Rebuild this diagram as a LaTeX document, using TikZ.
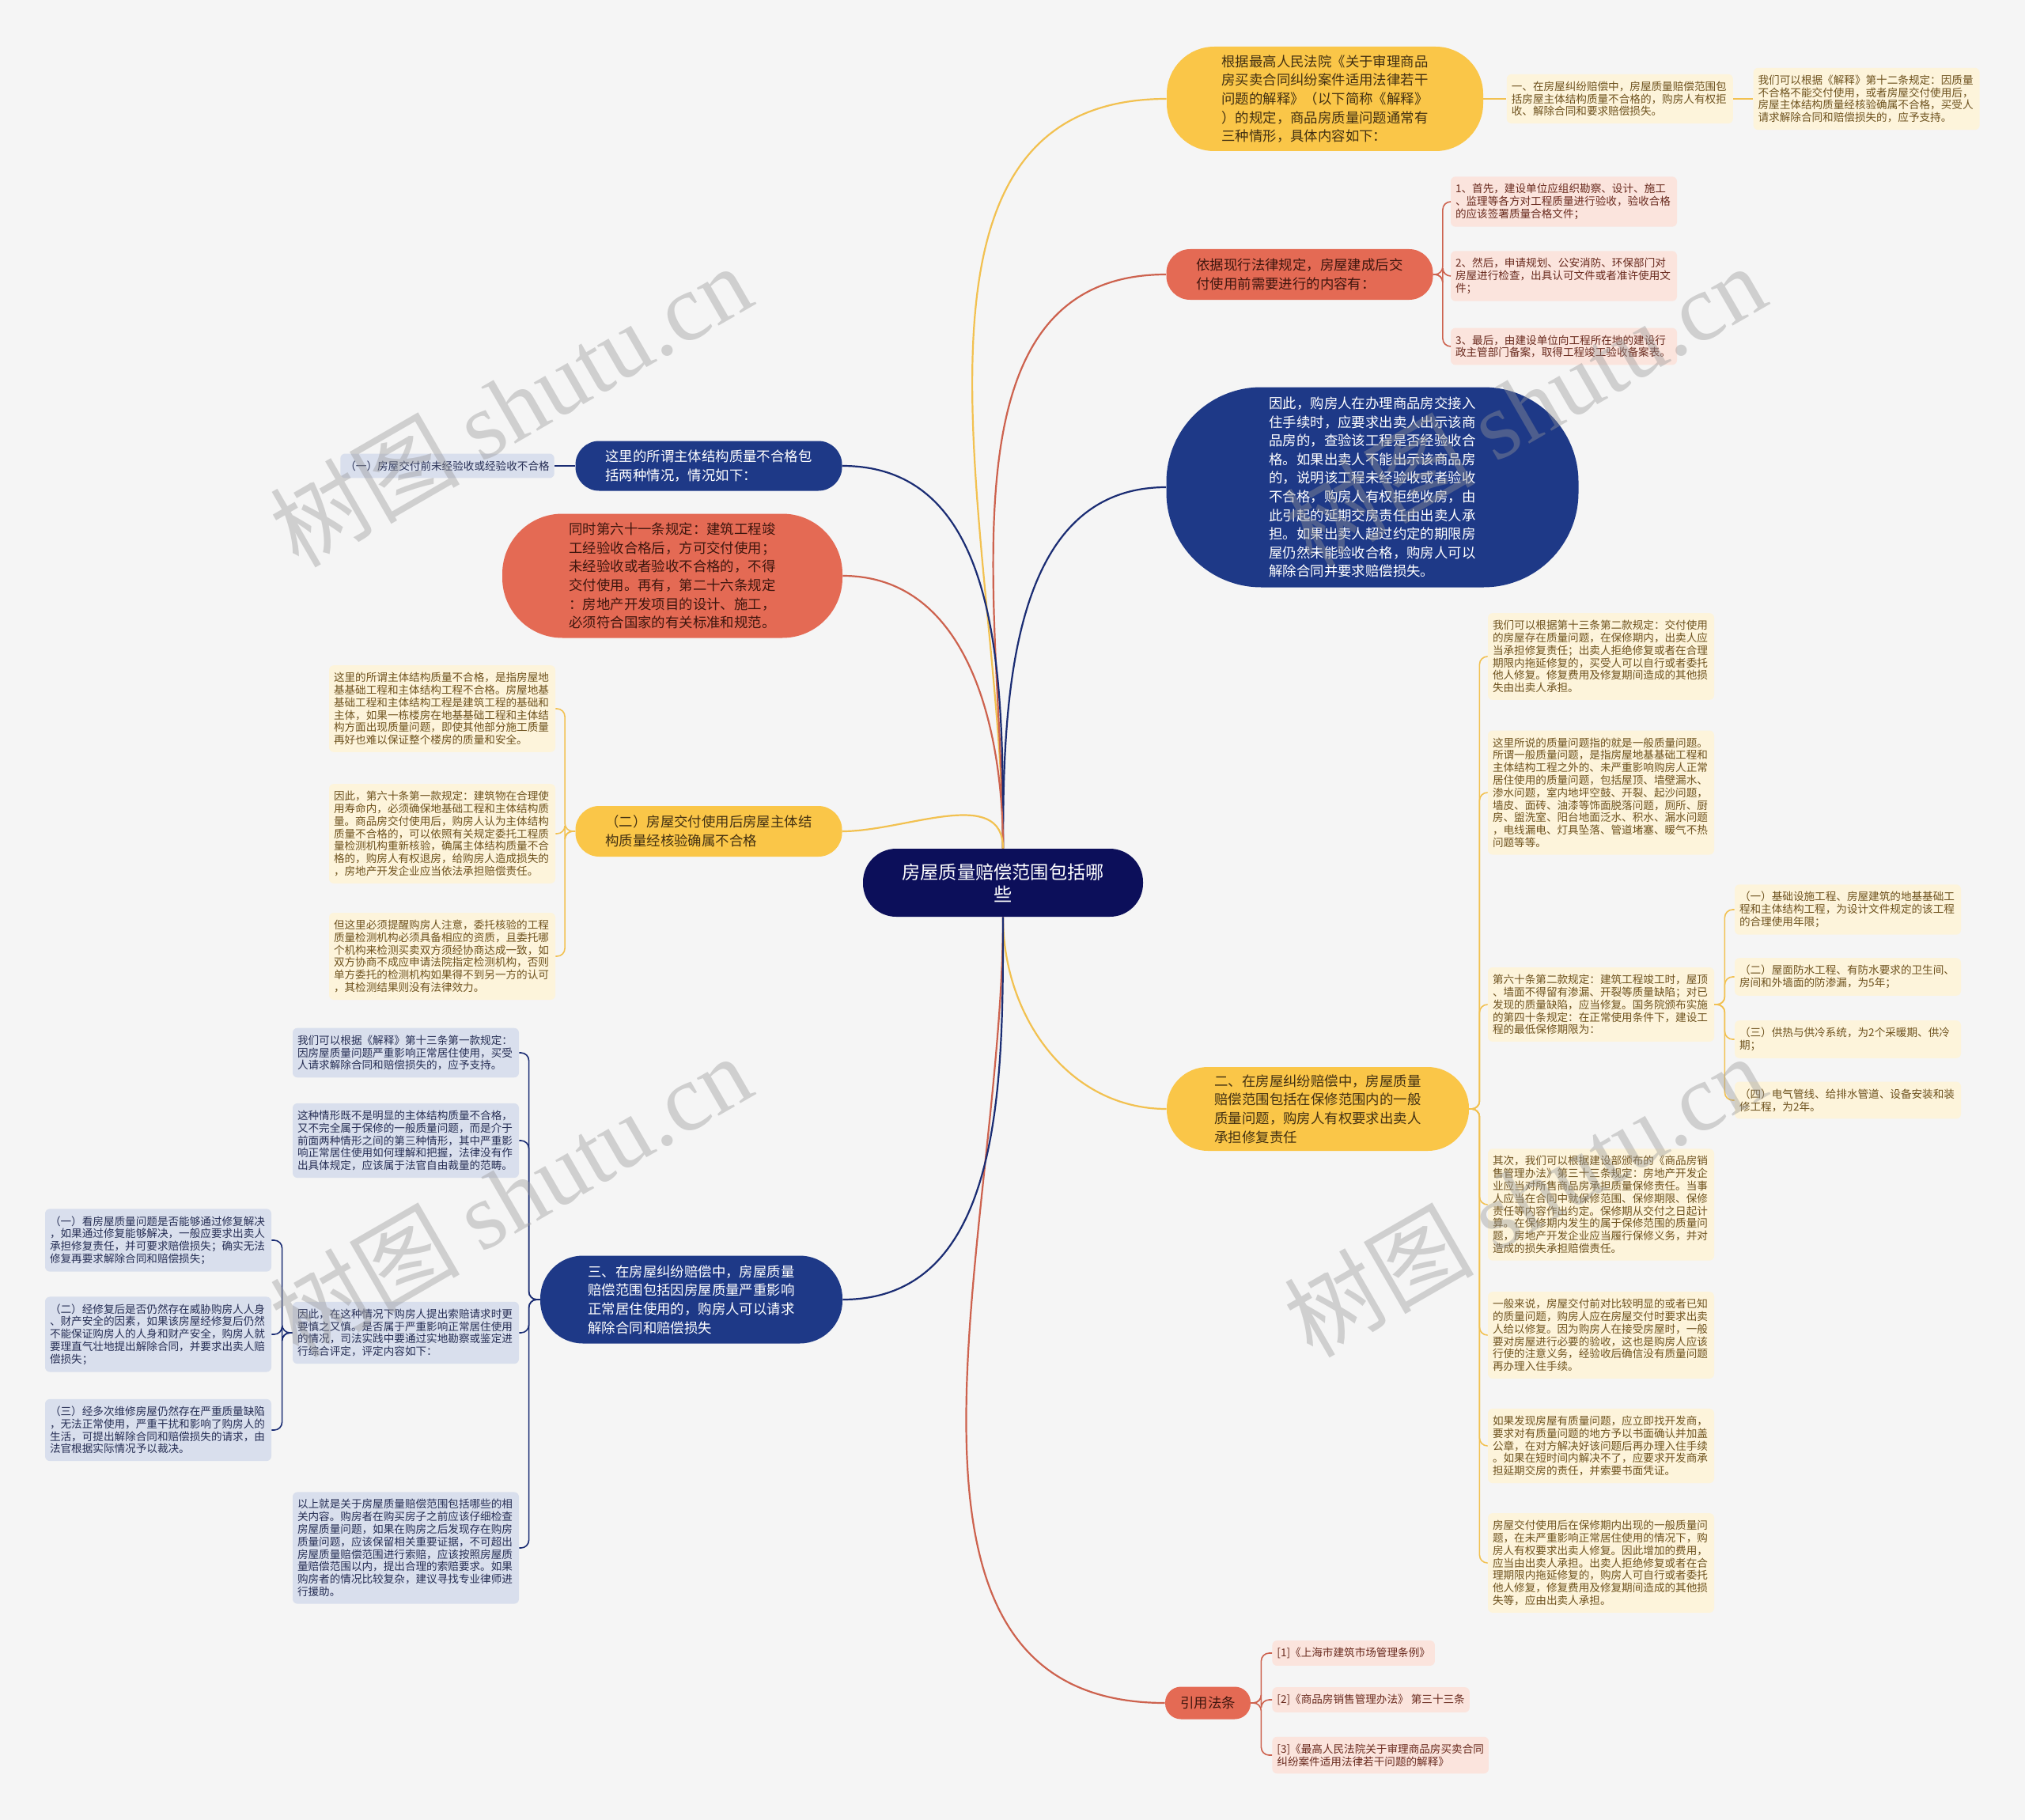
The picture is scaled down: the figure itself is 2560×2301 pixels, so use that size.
\documentclass[tikz,border=0pt]{standalone}
\usepackage{fontspec}
\setmainfont{Noto Sans CJK SC}
\newfontfamily\wmserif{Liberation Serif}
\usetikzlibrary{positioning}
\definecolor{bgc}{RGB}{245,245,245}
\definecolor{rootc}{RGB}{12,15,90}
\definecolor{ymainc}{RGB}{250,198,72}
\definecolor{ymaintx}{RGB}{66,48,18}
\definecolor{rmainc}{RGB}{228,106,84}
\definecolor{rmaintx}{RGB}{62,22,14}
\definecolor{bmainc}{RGB}{30,57,135}
\definecolor{yleafc}{RGB}{253,244,219}
\definecolor{yleaftx}{RGB}{110,82,30}
\definecolor{rleafc}{RGB}{251,228,221}
\definecolor{rleaftx}{RGB}{105,42,30}
\definecolor{bleafc}{RGB}{217,223,237}
\definecolor{bleaftx}{RGB}{38,46,84}
\definecolor{ylinec}{RGB}{242,193,80}
\definecolor{rlinec}{RGB}{205,98,78}
\definecolor{blinec}{RGB}{26,44,115}
\definecolor{wmc}{RGB}{150,150,150}
\newcommand{\rtfont}{\fontsize{11.6}{14}\selectfont}
\newcommand{\brfont}{\fontsize{8.7}{11.8}\selectfont}
\newcommand{\lffont}{\fontsize{6.8}{7.9}\selectfont}

\begin{document}
\begin{tikzpicture}[x=0.5pt, y=-0.5pt, node distance=12pt,
    root/.style={rectangle, rounded corners=21pt, fill=rootc, text=white, minimum width=177pt, minimum height=43pt, align=center, font=\rtfont},
    ymain/.style={rectangle, fill=ymainc, text=ymaintx, align=left, font=\brfont},
    rmain/.style={rectangle, fill=rmainc, text=rmaintx, align=left, font=\brfont},
    bmain/.style={rectangle, fill=bmainc, text=white, align=left, font=\brfont},
    leaf/.style={rectangle, rounded corners=3pt, text width=137pt, inner xsep=3pt, inner ysep=4.5pt, align=left, font=\lffont},
    yleaf/.style={leaf, fill=yleafc, text=yleaftx},
    rleaf/.style={leaf, fill=rleafc, text=rleaftx},
    bleaf/.style={leaf, fill=bleafc, text=bleaftx},
    rref/.style={rectangle, rounded corners=3pt, inner xsep=3pt, inner ysep=4.5pt, align=left, font=\lffont, fill=rleafc, text=rleaftx},
    bref/.style={rectangle, rounded corners=3pt, inner xsep=3pt, inner ysep=4.5pt, align=left, font=\lffont, fill=bleafc, text=bleaftx},
    ylink/.style={draw=ylinec, line width=1.1pt},
    rlink/.style={draw=rlinec, line width=1.1pt},
    blink/.style={draw=blinec, line width=1.1pt},
    yspine/.style={draw=ylinec, line width=0.8pt, rounded corners=5pt},
    rspine/.style={draw=rlinec, line width=0.8pt, rounded corners=5pt},
    bspine/.style={draw=blinec, line width=0.8pt, rounded corners=5pt},
    wm/.style={text=wmc, opacity=0.4, font=\fontsize{60}{60}\selectfont}
]

\fill[bgc] (0,0) rectangle (2560,2301);
\useasboundingbox (0,0) rectangle (2560,2301);

\node[root] (c) at (1268,1116) {房屋质量赔偿范围包括哪\\些};

\node[ymain, minimum width=200pt, minimum height=66pt, rounded corners=30pt] (b1) at (1675,125) {根据最高人民法院《关于审理商品\\房买卖合同纠纷案件适用法律若干\\问题的解释》（以下简称《解释》\\）的规定，商品房质量问题通常有\\三种情形，具体内容如下：};
\node[yleaf, right=14.5pt of b1] (l11) {一、在房屋纠纷赔偿中，房屋质量赔偿范围包\\括房屋主体结构质量不合格的，购房人有权拒\\收、解除合同和要求赔偿损失。};
\node[yleaf, right=12.5pt of l11] (l12) {我们可以根据《解释》第十二条规定：因质量\\不合格不能交付使用，或者房屋交付使用后，\\房屋主体结构质量经核验确属不合格，买受人\\请求解除合同和赔偿损失的，应予支持。};

\node[rmain, minimum width=168.5pt, minimum height=32pt, rounded corners=15pt] (b2) at (1643,347) {依据现行法律规定，房屋建成后交\\付使用前需要进行的内容有：};
\node[rleaf] (l21) at (1977,255) {1、首先，建设单位应组织勘察、设计、施工\\、监理等各方对工程质量进行验收，验收合格\\的应该签署质量合格文件；};
\node[rleaf] (l22) at (1977,349) {2、然后，申请规划、公安消防、环保部门对\\房屋进行检查，出具认可文件或者准许使用文\\件；};
\node[rleaf] (l23) at (1977,438) {3、最后，由建设单位向工程所在地的建设行\\政主管部门备案，取得工程竣工验收备案表。};

\node[bmain, minimum width=260.5pt, minimum height=126.5pt, rounded corners=60pt] (b3) at (1735,616) {因此，购房人在办理商品房交接入\\住手续时，应要求出卖人出示该商\\品房的，查验该工程是否经验收合\\格。如果出卖人不能出示该商品房\\的，说明该工程未经验收或者验收\\不合格，购房人有权拒绝收房，由\\此引起的延期交房责任由出卖人承\\担。如果出卖人超过约定的期限房\\屋仍然未能验收合格，购房人可以\\解除合同并要求赔偿损失。};

\node[ymain, minimum width=191pt, minimum height=53pt, rounded corners=26pt] (b4) at (1666,1402) {二、在房屋纠纷赔偿中，房屋质量\\赔偿范围包括在保修范围内的一般\\质量问题，购房人有权要求出卖人\\承担修复责任};
\node[yleaf] (l41) at (2024,830) {我们可以根据第十三条第二款规定：交付使用\\的房屋存在质量问题，在保修期内，出卖人应\\当承担修复责任；出卖人拒绝修复或者在合理\\期限内拖延修复的，买受人可以自行或者委托\\他人修复。修复费用及修复期间造成的其他损\\失由出卖人承担。};
\node[yleaf] (l42) at (2024,1002) {这里所说的质量问题指的就是一般质量问题。\\所谓一般质量问题，是指房屋地基基础工程和\\主体结构工程之外的、未严重影响购房人正常\\居住使用的质量问题，包括屋顶、墙壁漏水、\\渗水问题，室内地坪空鼓、开裂、起沙问题，\\墙皮、面砖、油漆等饰面脱落问题，厕所、厨\\房、盥洗室、阳台地面泛水、积水、漏水问题\\，电线漏电、灯具坠落、管道堵塞、暖气不热\\问题等等。};
\node[yleaf] (l43) at (2024,1270) {第六十条第二款规定：建筑工程竣工时，屋顶\\、墙面不得留有渗漏、开裂等质量缺陷；对已\\发现的质量缺陷，应当修复。国务院颁布实施\\的第四十条规定：在正常使用条件下，建设工\\程的最低保修期限为：};
\node[yleaf] (s1) at (2336,1150) {（一）基础设施工程、房屋建筑的地基基础工\\程和主体结构工程，为设计文件规定的该工程\\的合理使用年限；};
\node[yleaf] (s2) at (2336,1235) {（二）屋面防水工程、有防水要求的卫生间、\\房间和外墙面的防渗漏，为5年；};
\node[yleaf] (s3) at (2336,1314) {（三）供热与供冷系统，为2个采暖期、供冷\\期；};
\node[yleaf] (s4) at (2336,1391) {（四）电气管线、给排水管道、设备安装和装\\修工程，为2年。};
\node[yleaf] (l44) at (2024,1523) {其次，我们可以根据建设部颁布的《商品房销\\售管理办法》第三十三条规定：房地产开发企\\业应当对所售商品房承担质量保修责任。当事\\人应当在合同中就保修范围、保修期限、保修\\责任等内容作出约定。保修期从交付之日起计\\算。在保修期内发生的属于保修范围的质量问\\题，房地产开发企业应当履行保修义务，并对\\造成的损失承担赔偿责任。};
\node[yleaf] (l45) at (2024,1688) {一般来说，房屋交付前对比较明显的或者已知\\的质量问题，购房人应在房屋交付时要求出卖\\人给以修复。因为购房人在接受房屋时，一般\\要对房屋进行必要的验收，这也是购房人应该\\行使的注意义务，经验收后确信没有质量问题\\再办理入住手续。};
\node[yleaf] (l46) at (2024,1828) {如果发现房屋有质量问题，应立即找开发商，\\要求对有质量问题的地方予以书面确认并加盖\\公章，在对方解决好该问题后再办理入住手续\\。如果在短时间内解决不了，应要求开发商承\\担延期交房的责任，并索要书面凭证。};
\node[yleaf] (l47) at (2024,1976) {房屋交付使用后在保修期内出现的一般质量问\\题，在未严重影响正常居住使用的情况下，购\\房人有权要求出卖人修复。因此增加的费用，\\应当由出卖人承担。出卖人拒绝修复或者在合\\理期限内拖延修复的，购房人可自行或者委托\\他人修复，修复费用及修复期间造成的其他损\\失等，应由出卖人承担。};

\node[rmain, minimum width=54pt, minimum height=20.5pt, rounded corners=10pt] (b5) at (1527,2153) {引用法条};
\node[rref, anchor=west] (r1) at (1608,2090) {[1]《上海市建筑市场管理条例》};
\node[rref, anchor=west] (r2) at (1608,2149) {[2]《商品房销售管理办法》 第三十三条};
\node[rref, anchor=west] (r3) at (1608,2219) {[3]《最高人民法院关于审理商品房买卖合同\\纠纷案件适用法律若干问题的解释》};

\node[bmain, minimum width=168.5pt, minimum height=31.5pt, rounded corners=15pt] (b6) at (896,589) {这里的所谓主体结构质量不合格包\\括两种情况，情况如下：};
\node[bref, left=13pt of b6] (l61) {（一）房屋交付前未经验收或经验收不合格};

\node[rmain, minimum width=215pt, minimum height=78.5pt, rounded corners=38pt] (b7) at (850,728) {同时第六十一条规定：建筑工程竣\\工经验收合格后，方可交付使用；\\未经验收或者验收不合格的，不得\\交付使用。再有，第二十六条规定\\：房地产开发项目的设计、施工，\\必须符合国家的有关标准和规范。};

\node[ymain, minimum width=168.5pt, minimum height=32pt, rounded corners=15pt] (b8) at (896,1051) {（二）房屋交付使用后房屋主体结\\构质量经核验确属不合格};
\node[yleaf] (l81) at (559,896) {这里的所谓主体结构质量不合格，是指房屋地\\基基础工程和主体结构工程不合格。房屋地基\\基础工程和主体结构工程是建筑工程的基础和\\主体，如果一栋楼房在地基基础工程和主体结\\构方面出现质量问题，即使其他部分施工质量\\再好也难以保证整个楼房的质量和安全。};
\node[yleaf] (l82) at (559,1054) {因此，第六十条第一款规定：建筑物在合理使\\用寿命内，必须确保地基础工程和主体结构质\\量。商品房交付使用后，购房人认为主体结构\\质量不合格的，可以依照有关规定委托工程质\\量检测机构重新核验，确属主体结构质量不合\\格的，购房人有权退房，给购房人造成损失的\\，房地产开发企业应当依法承担赔偿责任。};
\node[yleaf] (l83) at (559,1209) {但这里必须提醒购房人注意，委托核验的工程\\质量检测机构必须具备相应的资质，且委托哪\\个机构来检测买卖双方须经协商达成一致，如\\双方协商不成应申请法院指定检测机构，否则\\单方委托的检测机构如果得不到另一方的认可\\，其检测结果则没有法律效力。};

\node[bmain, minimum width=191pt, minimum height=55.5pt, rounded corners=27pt] (b9) at (874,1643) {三、在房屋纠纷赔偿中，房屋质量\\赔偿范围包括因房屋质量严重影响\\正常居住使用的，购房人可以请求\\解除合同和赔偿损失};
\node[bleaf] (l91) at (513,1331) {我们可以根据《解释》第十三条第一款规定：\\因房屋质量问题严重影响正常居住使用，买受\\人请求解除合同和赔偿损失的，应予支持。};
\node[bleaf] (l92) at (513,1442) {这种情形既不是明显的主体结构质量不合格，\\又不完全属于保修的一般质量问题，而是介于\\前面两种情形之间的第三种情形，其中严重影\\响正常居住使用如何理解和把握，法律没有作\\出具体规定，应该属于法官自由裁量的范畴。};
\node[bleaf] (l93) at (513,1685) {因此，在这种情况下购房人提出索赔请求时更\\要慎之又慎。是否属于严重影响正常居住使用\\的情况，司法实践中要通过实地勘察或鉴定进\\行综合评定，评定内容如下：};
\node[bleaf] (m1) at (200,1568) {（一）看房屋质量问题是否能够通过修复解决\\，如果通过修复能够解决，一般应要求出卖人\\承担修复责任，并可要求赔偿损失；确实无法\\修复再要求解除合同和赔偿损失；};
\node[bleaf] (m2) at (200,1687) {（二）经修复后是否仍然存在威胁购房人人身\\、财产安全的因素，如果该房屋经修复后仍然\\不能保证购房人的人身和财产安全，购房人就\\要理直气壮地提出解除合同，并要求出卖人赔\\偿损失；};
\node[bleaf] (m3) at (200,1808) {（三）经多次维修房屋仍然存在严重质量缺陷\\，无法正常使用，严重干扰和影响了购房人的\\生活，可提出解除合同和赔偿损失的请求，由\\法官根据实际情况予以裁决。};
\node[bleaf] (l94) at (513,1957) {以上就是关于房屋质量赔偿范围包括哪些的相\\关内容。购房者在购买房子之前应该仔细检查\\房屋质量问题，如果在购房之后发现存在购房\\质量问题，应该保留相关重要证据，不可超出\\房屋质量赔偿范围进行索赔，应该按照房屋质\\量赔偿范围以内，提出合理的索赔要求。如果\\购房者的情况比较复杂，建议寻找专业律师进\\行援助。};

\draw[ylink] (c.north) to[out=90,in=180] (b1.west);
\draw[rlink] (c.north) to[out=90,in=180] (b2.west);
\draw[blink] (c.north) to[out=90,in=180] (b3.west);
\draw[ylink] (c.south) to[out=-90,in=180] (b4.west);
\draw[rlink] (c.south) to[out=-90,in=180] (b5.west);
\draw[blink] (c.north) to[out=90,in=0] (b6.east);
\draw[rlink] (c.north) to[out=90,in=0] (b7.east);
\draw[ylink] (c.north) to[out=90,in=0] (b8.east);
\draw[blink] (c.south) to[out=-90,in=0] (b9.east);

\draw[yspine] (b1.east) -- (l11.west);
\draw[yspine] (l11.east) -- (l12.west);

\draw[rspine] (b2.east) -- ++(12,0) |- (l21.west);
\draw[rspine] (b2.east) -- ++(12,0) |- (l22.west);
\draw[rspine] (b2.east) -- ++(12,0) |- (l23.west);

\draw[yspine] (b4.east) -- ++(13,0) |- (l41.west);
\draw[yspine] (b4.east) -- ++(13,0) |- (l42.west);
\draw[yspine] (b4.east) -- ++(13,0) |- (l43.west);
\draw[yspine] (b4.east) -- ++(13,0) |- (l44.west);
\draw[yspine] (b4.east) -- ++(13,0) |- (l45.west);
\draw[yspine] (b4.east) -- ++(13,0) |- (l46.west);
\draw[yspine] (b4.east) -- ++(13,0) |- (l47.west);

\draw[yspine] (l43.east) -- ++(13,0) |- (s1.west);
\draw[yspine] (l43.east) -- ++(13,0) |- (s2.west);
\draw[yspine] (l43.east) -- ++(13,0) |- (s3.west);
\draw[yspine] (l43.east) -- ++(13,0) |- (s4.west);

\draw[rspine] (b5.east) -- ++(13,0) |- (r1.west);
\draw[rspine] (b5.east) -- ++(13,0) |- (r2.west);
\draw[rspine] (b5.east) -- ++(13,0) |- (r3.west);

\draw[bspine] (b6.west) -- (l61.east);

\draw[yspine] (b8.west) -- ++(-13,0) |- (l81.east);
\draw[yspine] (b8.west) -- ++(-13,0) |- (l82.east);
\draw[yspine] (b8.west) -- ++(-13,0) |- (l83.east);

\draw[bspine] (b9.west) -- ++(-14,0) |- (l91.east);
\draw[bspine] (b9.west) -- ++(-14,0) |- (l92.east);
\draw[bspine] (b9.west) -- ++(-14,0) |- (l93.east);
\draw[bspine] (b9.west) -- ++(-14,0) |- (l94.east);

\draw[bspine] (l93.west) -- ++(-13,0) |- (m1.east);
\draw[bspine] (l93.west) -- ++(-13,0) |- (m2.east);
\draw[bspine] (l93.west) -- ++(-13,0) |- (m3.east);

\node[wm, rotate=30] (wm1) at (645,512) {树图 {\wmserif shutu.cn}};
\node[wm, rotate=30] (wm2) at (645,1511) {树图 {\wmserif shutu.cn}};
\node[wm, rotate=30] (wm3) at (1927,512) {树图 {\wmserif shutu.cn}};
\node[wm, rotate=30] (wm4) at (1927,1511) {树图 {\wmserif shutu.cn}};

\end{tikzpicture}
\end{document}
